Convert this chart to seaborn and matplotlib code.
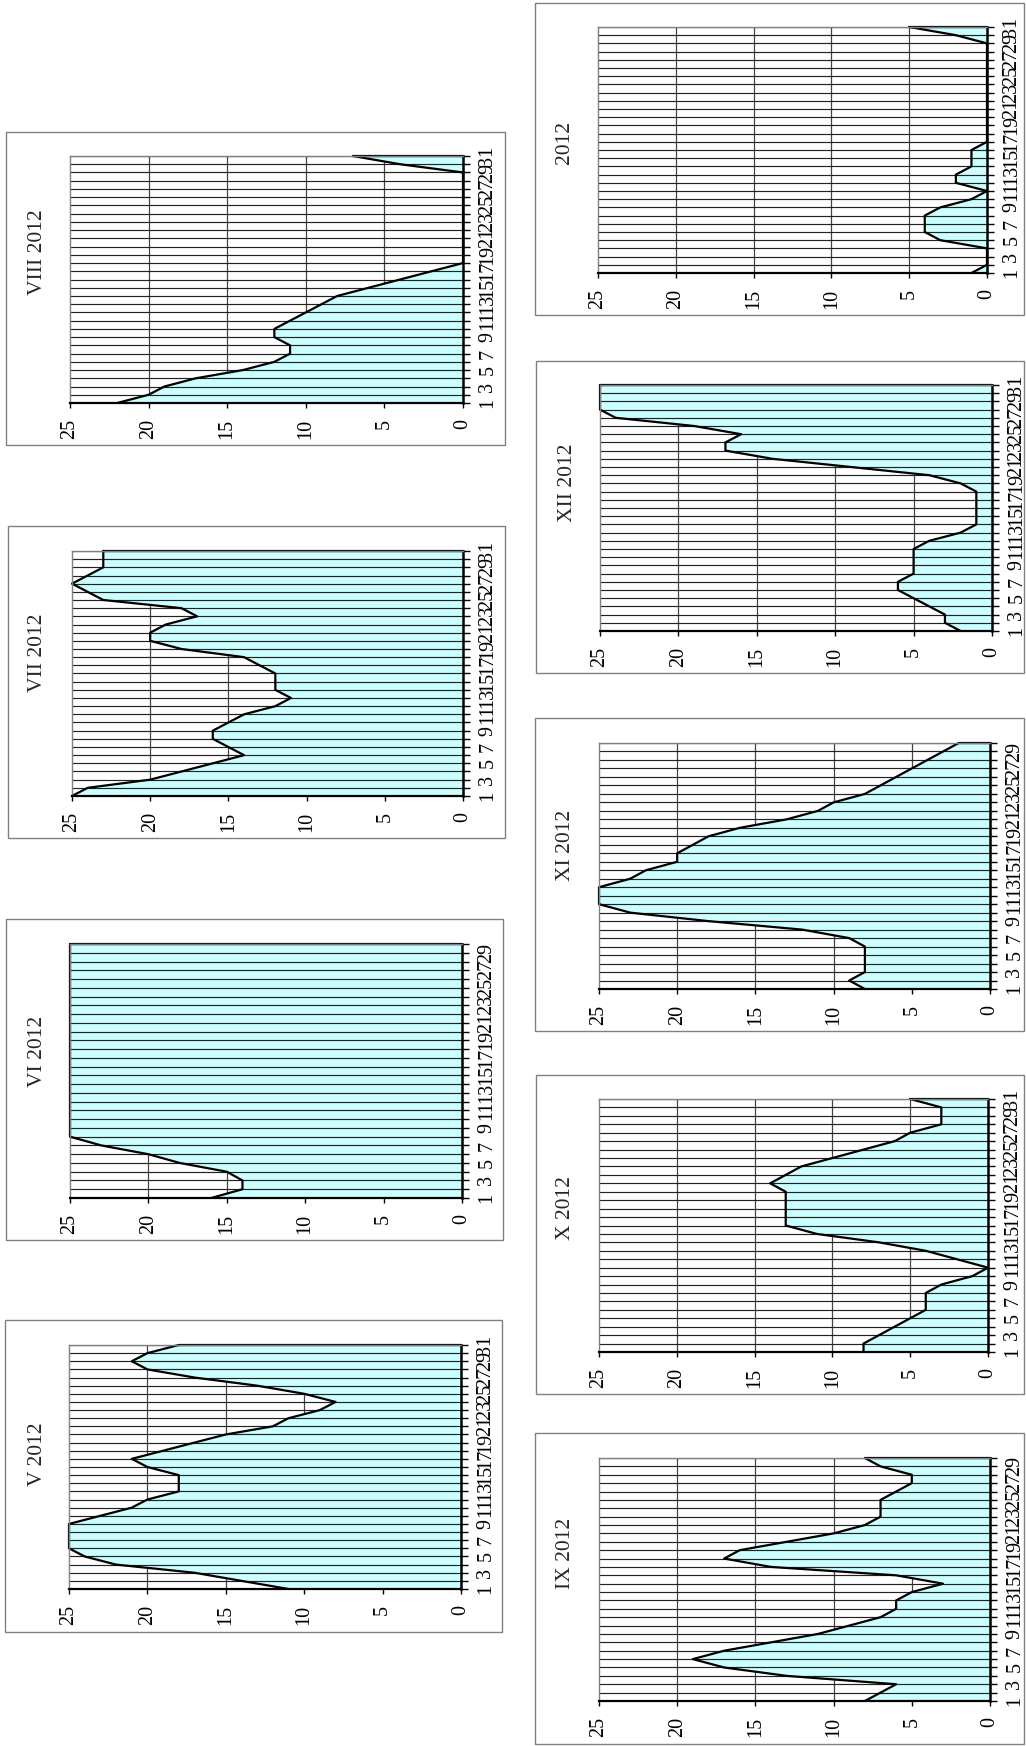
# -*- coding: utf-8 -*-
# Daily values per month (May 2012 .. Jan), drawn as area charts on a page turned 90 degrees
import numpy as np
import pandas as pd
import matplotlib
matplotlib.use("Agg")
import matplotlib.pyplot as plt
import seaborn as sns
from matplotlib.patches import Rectangle

# ---- data: one value per day ----
may = [11, 14, 17, 22, 24, 25, 25, 25, 25, 23, 21, 20, 18, 18, 18, 20, 21, 19, 17, 15,
       12, 11, 9, 8, 10, 13, 17, 20, 21, 20, 18]
june = [16, 14, 14, 15, 18, 20, 23, 25, 25, 25, 25, 25, 25, 25, 25, 25, 25, 25, 25, 25,
        25, 25, 25, 25, 25, 25, 25, 25, 25, 25]
july = [25, 24, 20, 18, 16, 14, 15, 16, 16, 15, 14, 12, 11, 12, 12, 12, 13, 14, 18, 20,
        20, 19, 17, 18, 23, 24, 25, 24, 23, 23, 23]
august = [22, 20, 19, 17, 14, 12, 11, 11, 12, 12, 11, 10, 9, 8, 6, 4, 2, 0, 0, 0,
          0, 0, 0, 0, 0, 0, 0, 0, 0, 4, 7]
september = [8, 7, 6, 13, 17, 19, 17, 14, 11, 9, 7, 6, 6, 5, 3, 6, 14, 17, 16, 13,
             10, 8, 7, 7, 7, 6, 5, 5, 7, 8]
october = [8, 8, 7, 6, 5, 4, 4, 4, 3, 1, 0, 2, 4, 7, 11, 13, 13, 13, 13, 13,
           14, 13, 12, 10, 8, 6, 5, 3, 3, 3, 5]
november = [8, 9, 8, 8, 8, 8, 9, 12, 18, 23, 25, 25, 25, 23, 22, 20, 20, 19, 18, 16,
            13, 11, 10, 8, 7, 6, 5, 4, 3, 2]
december = [2, 3, 3, 4, 5, 6, 6, 5, 5, 5, 5, 4, 2, 1, 1, 1, 1, 1, 2, 4,
            9, 14, 17, 17, 16, 19, 24, 25, 25, 25, 25]
january = [1, 0, 0, 0, 3, 4, 4, 4, 3, 1, 0, 2, 2, 1, 1, 1, 0, 0, 0, 0,
           0, 0, 0, 0, 0, 0, 0, 0, 0, 2, 5]

titles = ["V 2012", "VI 2012", "VII 2012", "VIII 2012",
          "IX 2012", "X 2012", "XI 2012", "XII 2012", "2012"]
series = [may, june, july, august, september, october, november, december, january]
valueTicks = [0, 5, 10, 15, 20, 25]

# ---- layout in pixels of the 1026x1746 page: plot rect, frame rect, title centre ----
W, H = 1026, 1746
layout = [
    # (x0, y0, x1, y1) plot,  (x0, y0, x1, y1) frame,  (tx, ty) title
    ((69, 1345, 461, 1589), (5, 1320, 502, 1632), (37, 1454)),   # V
    ((70, 944, 462, 1198), (6, 919, 503, 1240), (37, 1051)),     # VI
    ((72, 551, 463, 796), (8, 526, 505, 838), (37, 653)),        # VII
    ((70, 156, 463, 403), (6, 132, 505, 445), (37, 252)),        # VIII
    ((599, 1458, 990, 1701), (535, 1433, 1024, 1744), (566, 1553)),  # IX
    ((599, 1099, 988, 1352), (536, 1075, 1024, 1394), (566, 1208)),  # X
    ((599, 743, 990, 989), (535, 718, 1024, 1031), (566, 845)),      # XI
    ((600, 385, 992, 631), (536, 361, 1024, 673), (567, 483)),       # XII
    ((598, 27, 987, 273), (535, 3, 1024, 315), (565, 143)),          # 2012
]

sns.set_style("white")
plt.rcParams['font.family'] = ['Liberation Serif', 'DejaVu Serif']

fillColor = '#CCFFFF'
tickSize = 14.5


def ToFigRect(rect):
    x0, y0, x1, y1 = rect
    return [x0 / W, 1 - y1 / H, (x1 - x0) / W, (y1 - y0) / H]


def DrawPanel(fig, values, title, plotRect, frameRect, titlePos):
    nDays = len(values)
    days = np.arange(1, nDays + 1)
    df = pd.DataFrame({'day': days, 'value': values})

    ax = fig.add_axes(ToFigRect(plotRect))
    ax.set_facecolor('white')

    # value gridlines sit under the area, day lines run over it
    ax.vlines([5, 10, 15, 20], 1, nDays, colors='#444444', lw=0.9, zorder=1)
    ax.fill_betweenx(df['day'], 0, df['value'], color=fillColor, lw=0, zorder=2)
    ax.hlines(days, 0, 25, colors='#222222', lw=0.85, zorder=3)

    sns.lineplot(data=df, x='value', y='day', orient='y', sort=False,
                 color='black', lw=1.6, ax=ax, zorder=4, clip_on=False)
    # close the area on the last day
    ax.plot([values[-1], 0], [nDays, nDays], color='black', lw=1.6, zorder=4, clip_on=False)

    ax.set_xlim(25, 0)
    ax.set_ylim(1, nDays)
    ax.set_xlabel('')
    ax.set_ylabel('')

    for side in ['left', 'top']:
        ax.spines[side].set_color('#808080')
        ax.spines[side].set_linewidth(1.0)
    ax.spines['bottom'].set_color('black')
    ax.spines['bottom'].set_linewidth(1.6)
    ax.spines['right'].set_color('black')
    ax.spines['right'].set_linewidth(1.8)
    for sp in ax.spines.values():
        sp.set_visible(True)
        sp.set_zorder(5)

    ax.set_xticks(valueTicks)
    ax.set_xticklabels([str(v) for v in valueTicks])
    ax.xaxis.set_ticks_position('bottom')
    ax.tick_params(axis='x', direction='out', length=3.5, width=1, pad=8,
                   labelsize=tickSize, labelrotation=90, colors='black')

    ax.yaxis.tick_right()
    ax.set_yticks(days)
    ax.set_yticklabels([str(d) if d % 2 == 1 else '' for d in days])
    ax.tick_params(axis='y', direction='out', length=5, width=1, pad=6,
                   labelsize=tickSize, labelrotation=90, colors='black')
    for lbl in ax.get_yticklabels():
        lbl.set_va('center')
        lbl.set_ha('left')
    ax.grid(False)

    fig.add_artist(Rectangle((frameRect[0] / W, 1 - frameRect[3] / H),
                             (frameRect[2] - frameRect[0]) / W,
                             (frameRect[3] - frameRect[1]) / H,
                             transform=fig.transFigure, fill=False,
                             edgecolor='#808080', lw=1.0))
    fig.text(titlePos[0] / W, 1 - titlePos[1] / H, title, rotation=90,
             ha='center', va='center', fontsize=15.5)
    return ax


fig = plt.figure(figsize=(W / 100, H / 100), dpi=100)
fig.patch.set_facecolor('white')

for values, title, (plotRect, frameRect, titlePos) in zip(series, titles, layout):
    DrawPanel(fig, values, title, plotRect, frameRect, titlePos)

fig.savefig('out.png', dpi=100, facecolor='white')
